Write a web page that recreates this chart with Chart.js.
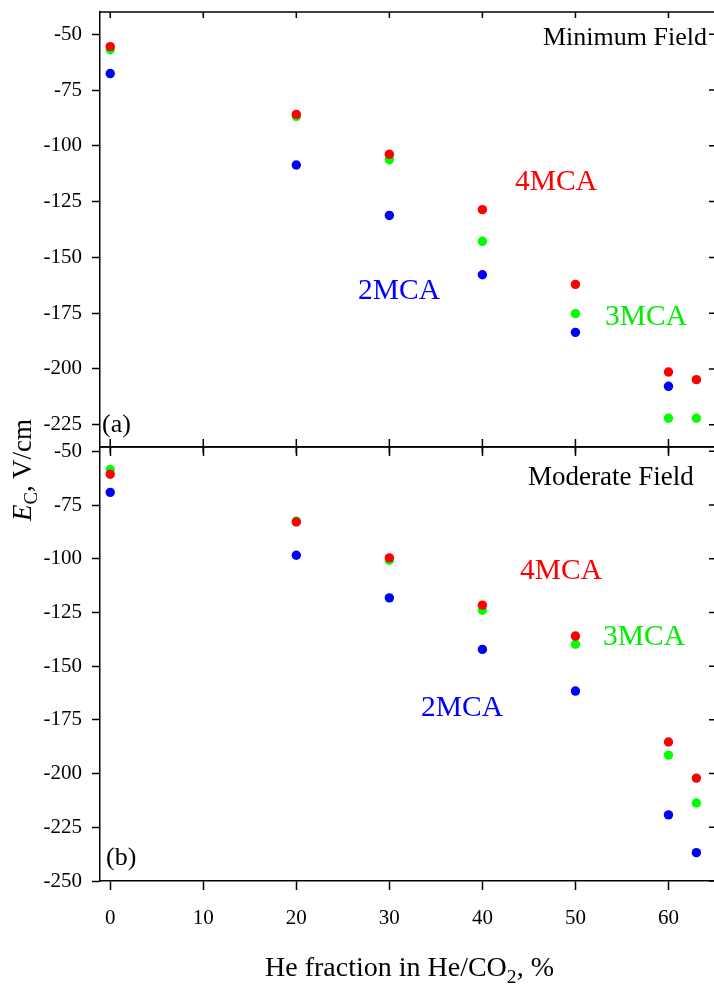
<!DOCTYPE html>
<html>
<head>
<meta charset="utf-8">
<script src="https://cdn.jsdelivr.net/npm/chart.js@4.4.0/dist/chart.umd.min.js"></script>
<style>
  html, body { margin: 0; padding: 0; background: #fff; overflow: hidden; }
  #wrap { position: relative; width: 714px; height: 985px; overflow: hidden; font-family: 'Liberation Serif', 'Times New Roman', serif; }
  canvas { position: absolute; left: 0; }
  #topChart { top: 0; }
  #botChart { top: 420px; }
  .lbl { position: absolute; white-space: nowrap; line-height: 1; font-size: 26px; color: #000; }
  .red { color: #ff0000; font-size: 29.5px; }
  .green { color: #00ee00; font-size: 29.5px; }
  .blue { color: #0000ff; font-size: 29.5px; }
  #ytitle { position: absolute; left: 25px; top: 470px; transform: translate(-50%, -50%) rotate(-90deg); font-size: 27px; white-space: nowrap; line-height: 1; }
  #ytitle sub, #xtitle sub { font-size: 0.7em; }
  #xtitle { position: absolute; left: 265px; top: 953px; font-size: 28px; white-space: nowrap; line-height: 1; }
</style>
</head>
<body>
<div id="wrap">
  <canvas id="topChart" width="730" height="470"></canvas>
  <canvas id="botChart" width="730" height="565"></canvas>

  <div class="lbl" style="left:543px; top:24px;">Minimum Field</div>
  <div class="lbl red" style="left:515px; top:166px;">4MCA</div>
  <div class="lbl blue" style="left:358px; top:275px;">2MCA</div>
  <div class="lbl green" style="left:605px; top:301px;">3MCA</div>
  <div class="lbl" style="left:102px; top:411px;">(a)</div>

  <div class="lbl" style="left:528px; top:463px; font-size:27px;">Moderate Field</div>
  <div class="lbl red" style="left:520px; top:555px;">4MCA</div>
  <div class="lbl green" style="left:603px; top:621px;">3MCA</div>
  <div class="lbl blue" style="left:421px; top:692px;">2MCA</div>
  <div class="lbl" style="left:106px; top:844px;">(b)</div>

  <div id="ytitle"><i>E</i><sub>C</sub>, V/cm</div>
  <div id="xtitle">He fraction in He/CO<sub>2</sub>, %</div>
</div>
<script>
// He fraction (%) for every measurement
const heFraction = [0, 20, 30, 40, 50, 60, 63];

// (a) minimum field, V/cm
const minField4MCA = [-55.5, -85.9, -103.8, -128.6, -162.1, -201.4, -204.8];
const minField3MCA = [-56.9, -86.8, -106.2, -142.8, -175.2, -222.1, -222.1];
const minField2MCA = [-67.6, -108.6, -131.2, -157.8, -183.6, -207.8, null];

// (b) moderate field, V/cm
const modField4MCA = [-60.7, -82.9, -99.6, -121.6, -136.0, -185.3, -202.1];
const modField3MCA = [-58.5, -82.5, -100.7, -124.0, -139.8, -191.4, -213.7];
const modField2MCA = [-69.1, -98.4, -118.2, -142.2, -161.6, -219.2, -236.8];

// tick labels
const xTicks = [0, 10, 20, 30, 40, 50, 60];
const topYTicks = [-50, -75, -100, -125, -150, -175, -200, -225];
const botYTicks = [-50, -75, -100, -125, -150, -175, -200, -225, -250];

const FONT = 'Liberation Serif';
const toPoints = vals => heFraction.map((x, i) => ({ x: x, y: vals[i] })).filter(p => p.y !== null);

function makeSets(red, green, blue) {
    // red first so it is painted on top
    return [
        { data: toPoints(red), backgroundColor: '#ff0000' },
        { data: toPoints(green), backgroundColor: '#00ff00' },
        { data: toPoints(blue), backgroundColor: '#0000ff' }
    ].map(d => Object.assign(d, { pointRadius: 4.7, pointBorderWidth: 0, pointHoverRadius: 4.7 }));
}

// top/right frame with inward ticks
const framePlugin = {
    id: 'frame',
    afterDraw(chart, args, opts) {
        const { ctx, chartArea: a, scales } = chart;
        const x = scales.x, y = scales.y;
        ctx.save();
        ctx.strokeStyle = '#000';
        ctx.lineWidth = 1.5;
        ctx.beginPath();
        ctx.moveTo(a.left, a.top);
        ctx.lineTo(a.right, a.top);
        ctx.lineTo(a.right, a.bottom);
        x.ticks.forEach(t => {
            const px = x.getPixelForValue(t.value);
            ctx.moveTo(px, a.top);
            ctx.lineTo(px, a.top + 6);
            if (opts.innerBottom) {
                ctx.moveTo(px, a.bottom);
                ctx.lineTo(px, a.bottom - 8);
            }
        });
        y.ticks.forEach(t => {
            const py = y.getPixelForValue(t.value);
            ctx.moveTo(a.right, py);
            ctx.lineTo(a.right - 6, py);
        });
        ctx.stroke();
        ctx.restore();
    }
};

function makeChart(id, sets, yMin, yMax, yTicks, showX, xHeight, pad) {
    return new Chart(document.getElementById(id), {
        type: 'scatter',
        data: { datasets: sets },
        plugins: [framePlugin],
        options: {
            responsive: false,
            animation: false,
            events: [],
            layout: { padding: pad },
            plugins: {
                legend: { display: false },
                tooltip: { enabled: false },
                frame: { innerBottom: !showX }
            },
            scales: {
                x: {
                    type: 'linear',
                    min: -1.1,
                    max: 65,
                    afterBuildTicks: s => { s.ticks = xTicks.map(v => ({ value: v })); },
                    afterFit: s => { s.height = xHeight; s.paddingLeft = 0; s.paddingRight = 0; },
                    grid: { drawOnChartArea: false, drawTicks: true, tickLength: 9, tickWidth: 1.5, tickColor: '#000' },
                    border: { display: true, color: '#000', width: 1.5 },
                    ticks: {
                        display: showX,
                        autoSkip: false,
                        maxRotation: 0,
                        padding: 16,
                        color: '#000',
                        font: { family: FONT, size: 21 },
                        callback: v => String(v)
                    }
                },
                y: {
                    type: 'linear',
                    min: yMin,
                    max: yMax,
                    afterBuildTicks: s => { s.ticks = yTicks.map(v => ({ value: v })); },
                    afterFit: s => { s.width = 100; s.paddingTop = 0; s.paddingBottom = 0; },
                    grid: { drawOnChartArea: false, drawTicks: true, tickLength: 8, tickWidth: 1.5, tickColor: '#000' },
                    border: { display: true, color: '#000', width: 1.5 },
                    ticks: {
                        autoSkip: false,
                        padding: 10,
                        color: '#000',
                        font: { family: FONT, size: 21 },
                        callback: v => String(v)
                    }
                }
            }
        }
    });
}

makeChart('topChart', makeSets(minField4MCA, minField3MCA, minField2MCA),
    -235, -40, topYTicks, false, 23, { top: 12, right: 15, bottom: 0, left: 0 });

makeChart('botChart', makeSets(modField4MCA, modField3MCA, modField2MCA),
    -250, -48, botYTicks, true, 66, { top: 27, right: 15, bottom: 38, left: 0 });
</script>
</body>
</html>
